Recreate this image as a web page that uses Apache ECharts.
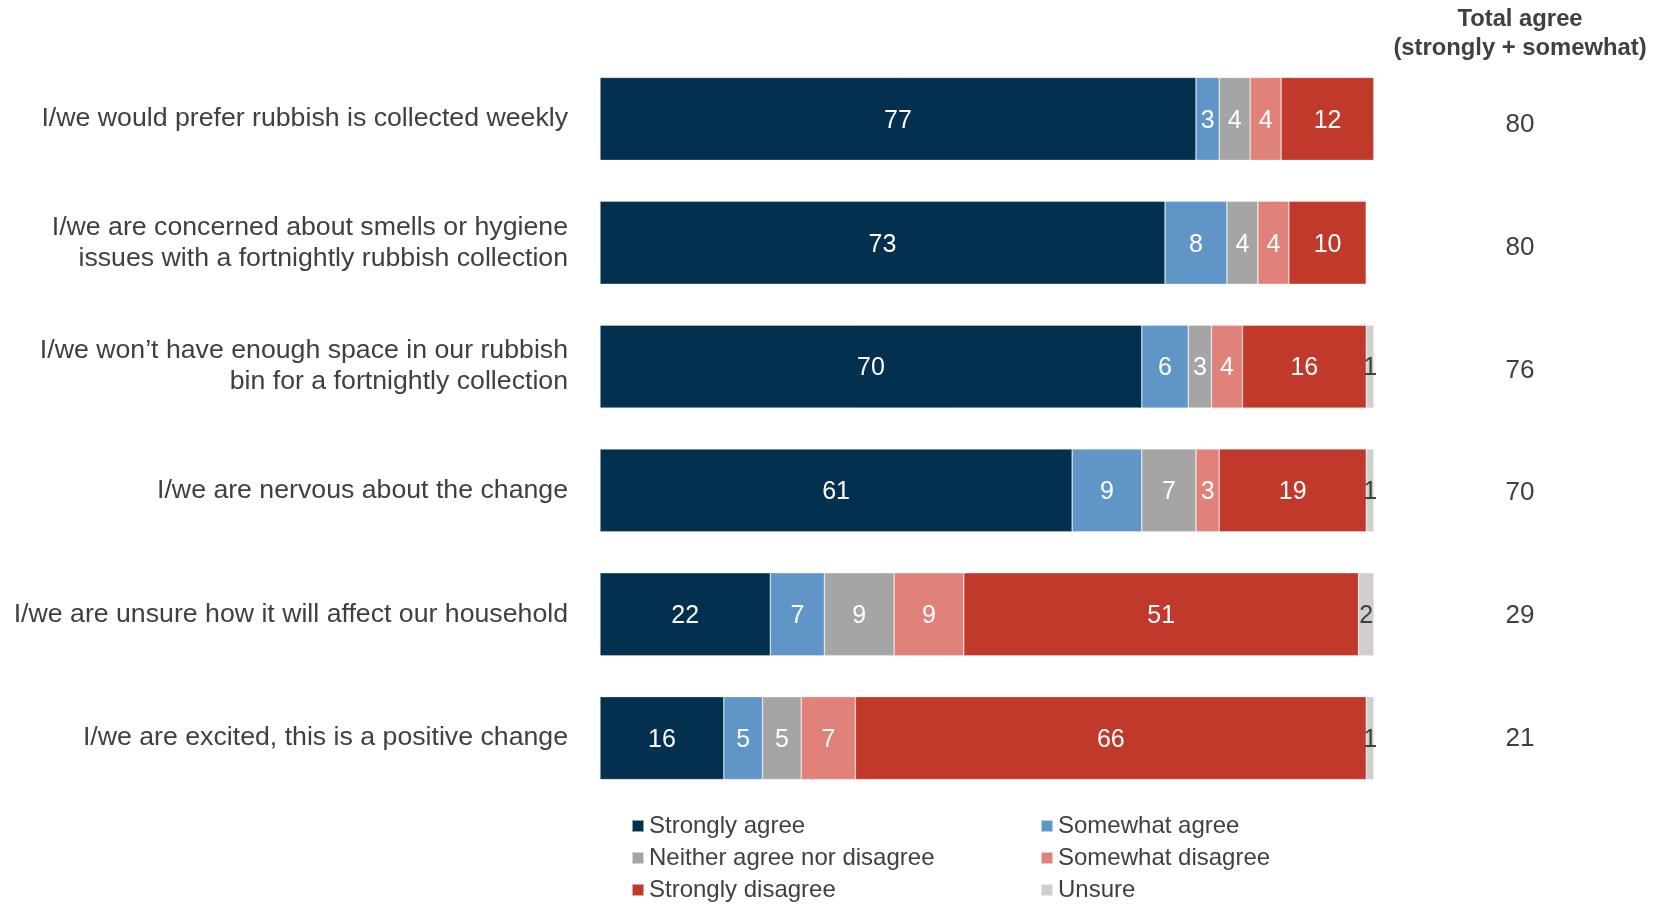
<!DOCTYPE html>
<html>
<head>
<meta charset="utf-8">
<script src="https://cdn.jsdelivr.net/npm/echarts@6/dist/echarts.min.js"></script>
<style>
  html, body { margin: 0; padding: 0; background: #fff; }
  #chart { width: 1661px; height: 904px; }
</style>
</head>
<body>
<div id="chart"></div>
<script>
// Statements, top to bottom
const statements = [
  'I/we would prefer rubbish is collected weekly',
  'I/we are concerned about smells or hygiene\nissues with a fortnightly rubbish collection',
  'I/we won\u2019t have enough space in our rubbish\nbin for a fortnightly collection',
  'I/we are nervous about the change',
  'I/we are unsure how it will affect our household',
  'I/we are excited, this is a positive change'
];

// Response shares (%) per statement
const stronglyAgree    = [77, 73, 70, 61, 22, 16];
const somewhatAgree    = [3, 8, 6, 9, 7, 5];
const neither          = [4, 4, 3, 7, 9, 5];
const somewhatDisagree = [4, 4, 4, 3, 9, 7];
const stronglyDisagree = [12, 10, 16, 19, 51, 66];
const unsure           = [0, 0, 1, 1, 2, 1];

// Total agree (strongly + somewhat), as reported
const totalAgree = [80, 80, 76, 70, 29, 21];

const responseNames = [
  'Strongly agree', 'Somewhat agree', 'Neither agree nor disagree',
  'Somewhat disagree', 'Strongly disagree', 'Unsure'
];
const responseValues = [stronglyAgree, somewhatAgree, neither, somewhatDisagree, stronglyDisagree, unsure];
const responseColors = ['#03304F', '#6095C7', '#A5A5A5', '#E0817A', '#C0392B', '#D0CECE'];
const labelColors    = ['#fff', '#fff', '#fff', '#fff', '#fff', '#404040'];

const FONT = "'Liberation Sans', Arial, Helvetica, sans-serif";
const TEXT = '#404040';

const chart = echarts.init(document.getElementById('chart'), null, { renderer: 'canvas' });

const series = responseNames.map((name, i) => ({
  name: name,
  type: 'bar',
  stack: 'share',
  xAxisIndex: 0,
  yAxisIndex: 0,
  barCategoryGap: '33%',
  data: responseValues[i],
  itemStyle: { color: responseColors[i], borderColor: 'rgba(255,255,255,0.55)', borderWidth: 0.6 },
  label: {
    show: true,
    position: 'inside',
    offset: [0, 2],
    color: labelColors[i],
    fontFamily: FONT,
    fontSize: 25,
    formatter: p => (p.value > 0 ? String(p.value) : '')
  },
  emphasis: { disabled: true }
}));

// Legend: two columns, three rows, filled row by row
const legendColumnsX = [631, 1040];
const legendRowsTop = [814, 846, 878];
const legends = responseNames.map((name, i) => ({
  orient: 'horizontal',
  left: legendColumnsX[i % 2],
  top: legendRowsTop[Math.floor(i / 2)],
  padding: 0,
  itemWidth: 12, itemHeight: 12,
  icon: 'rect',
  selectedMode: false,
  data: [name],
  textStyle: { color: TEXT, fontFamily: FONT, fontSize: 24, lineHeight: 24 }
}));

chart.setOption({
  animation: false,
  backgroundColor: '#fff',
  grid: [
    // stacked bars
    { left: 600, right: 287, top: 57, bottom: 104, containLabel: false },
    // "Total agree" column
    { left: 600, right: 287, top: 63.7, bottom: 104.3, containLabel: false }
  ],
  xAxis: [
    { type: 'value', gridIndex: 0, min: 0, max: 100, show: false },
    { type: 'value', gridIndex: 1, min: 0, max: 100, show: false }
  ],
  yAxis: [
    {
      type: 'category',
      gridIndex: 0,
      inverse: true,
      data: statements,
      axisLine: { show: false },
      axisTick: { show: false },
      axisLabel: {
        color: TEXT, fontFamily: FONT, fontSize: 26.7, lineHeight: 31,
        margin: 32, align: 'right', padding: [4, 0, 0, 0]
      }
    },
    {
      type: 'category',
      gridIndex: 1,
      inverse: true,
      position: 'right',
      data: totalAgree.map(String),
      axisLine: { show: false },
      axisTick: { show: false },
      axisLabel: {
        color: TEXT, fontFamily: FONT, fontSize: 26,
        margin: 146, align: 'center'
      }
    }
  ],
  legend: legends,
  graphic: [
    {
      type: 'text', x: 1520, y: 19,
      style: { text: 'Total agree', fill: TEXT, font: 'bold 23.8px ' + FONT, align: 'center', verticalAlign: 'middle' }
    },
    {
      type: 'text', x: 1520, y: 48,
      style: { text: '(strongly + somewhat)', fill: TEXT, font: 'bold 23.8px ' + FONT, align: 'center', verticalAlign: 'middle' }
    }
  ],
  series: series
});
</script>
</body>
</html>
